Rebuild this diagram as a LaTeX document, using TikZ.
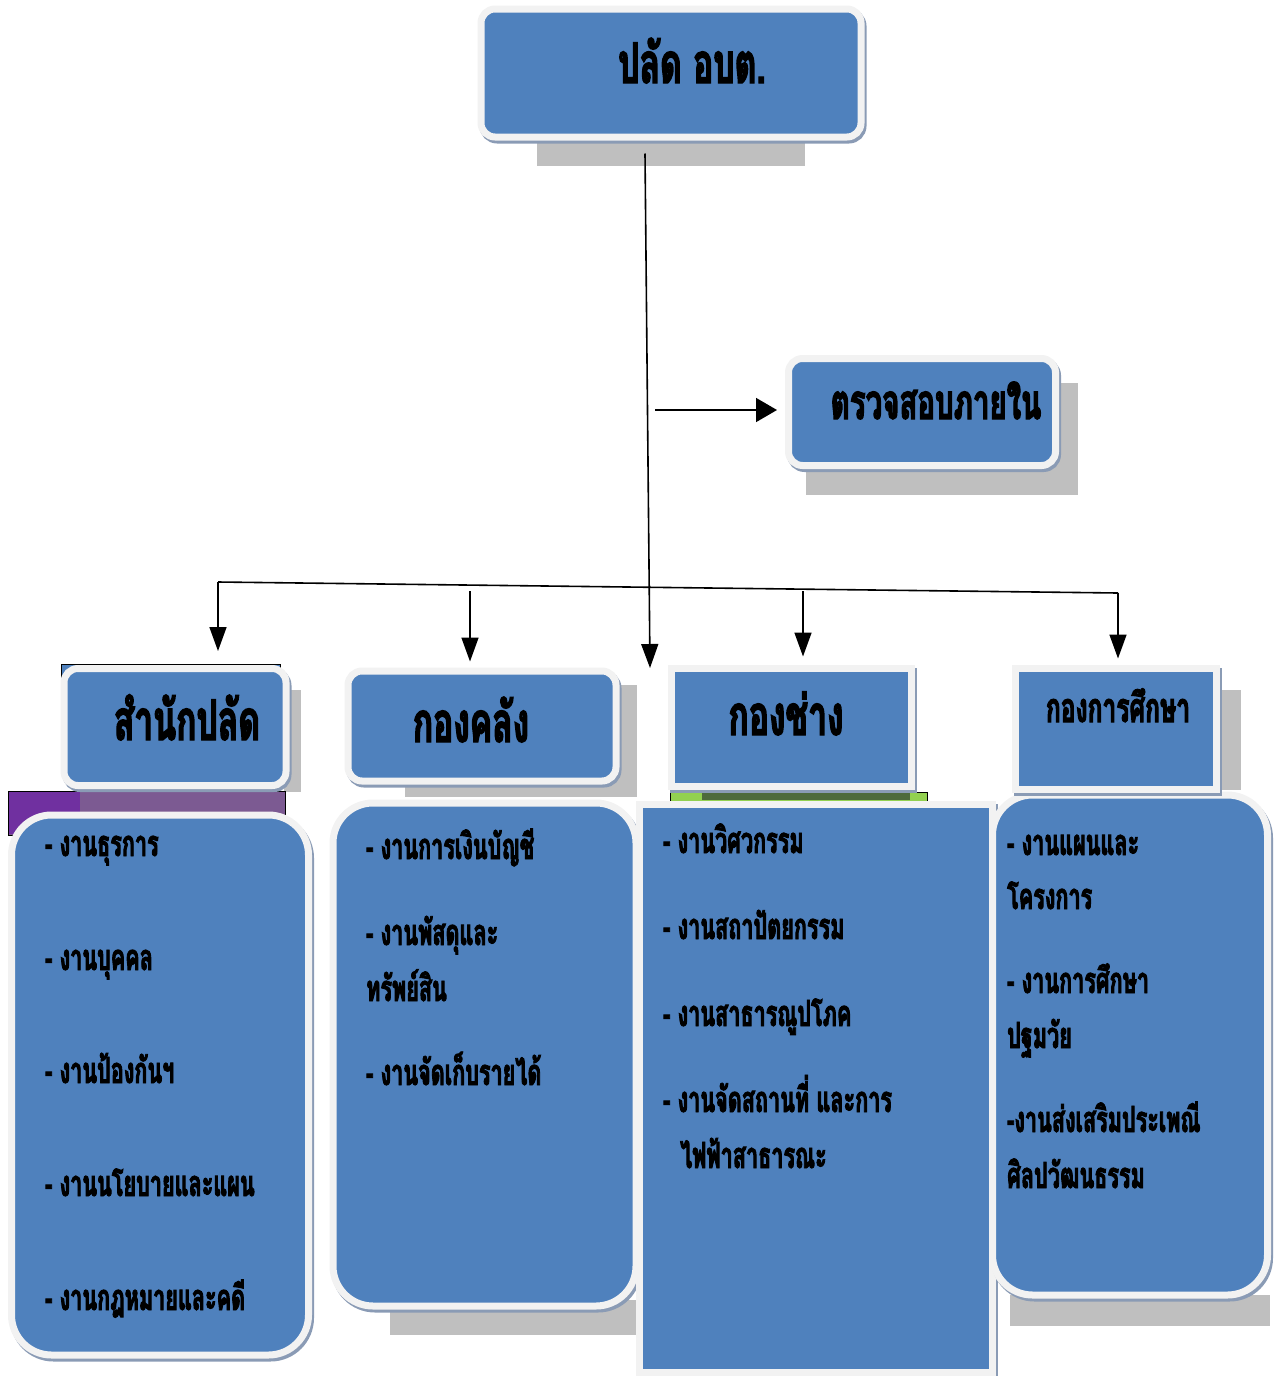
\documentclass[tikz,border=0pt]{standalone}
\usepackage{fontspec}
\usepackage{tikz}
\usetikzlibrary{arrows.meta}
\newfontfamily\thaifont[Script=Thai,FakeStretch=0.6,BoldFeatures={FakeBold=2.5}]{Loma}
\newcommand{\itemfont}{\thaifont\bfseries\fontsize{36}{40}\selectfont}
\newcommand{\headfont}{\thaifont\bfseries\fontsize{56}{60}\selectfont}
\definecolor{boxblue}{HTML}{4F81BD}
\definecolor{rimgray}{HTML}{F2F2F2}
\definecolor{shadegray}{HTML}{BFBFBF}
\definecolor{edgeblue}{HTML}{8A9BB5}
\definecolor{darkpurple}{HTML}{7030A0}
\definecolor{lightpurple}{HTML}{7C5A92}
\definecolor{bargreen}{HTML}{92D050}
\definecolor{bardark}{HTML}{4E6A3C}
\tikzset{
  softbox/.style={draw=rimgray, fill=boxblue, line width=7pt, rounded corners=14pt, inner sep=0pt,
    preaction={draw=edgeblue, line width=7pt, transform canvas={shift={(2pt,-3pt)}}}},
  squarebox/.style={softbox, rounded corners=0pt},
  heading/.style={anchor=base, inner sep=0pt, font=\headfont},
  job/.style={anchor=base west, inner sep=0pt, font=\itemfont},
  link/.style={line width=1.6pt},
  arrow/.style={link, -{Triangle[width=17pt,length=24pt]}}
}
\begin{document}
\begin{tikzpicture}[x=1pt,y=-1pt]
  \useasboundingbox (0,0) rectangle (1281,1376);
  % grey shadows
  \fill[shadegray] (537,138) rectangle (805,166);
  \fill[shadegray] (806,383) rectangle (1078,495);
  \fill[shadegray] (284,690) rectangle (301,792);
  \fill[shadegray] (405,685) rectangle (637,797);
  \fill[shadegray] (390,1300) rectangle (640,1335);
  \fill[shadegray] (1215,690) rectangle (1241,790);
  \fill[shadegray] (1010,1295) rectangle (1270,1326);
  % bars under the headings
  \filldraw[fill=lightpurple, draw=black] (8,791) rectangle (285,835);
  \fill[darkpurple] (9,792) rectangle (80,834);
  \filldraw[fill=bargreen, draw=black] (670,792) rectangle (927,801);
  \fill[bardark] (702,793) rectangle (910,800);
  \filldraw[fill=boxblue, draw=black] (61,664) rectangle (280,740);

  % boxes
  \node[softbox, minimum width=380pt, minimum height=128pt] (top) at (671,73) {};
  \node[softbox, minimum width=267pt, minimum height=107pt] (audit) at (922,412) {};
  \node[softbox, rounded corners=40pt, minimum width=297pt, minimum height=540pt] (list1) at (160,1085) {};
  \node[softbox, rounded corners=40pt, minimum width=303pt, minimum height=503pt] (list2) at (484.5,1054.5) {};
  \node[squarebox, minimum width=353pt, minimum height=568pt] (list3) at (816,1088) {};
  \node[softbox, rounded corners=40pt, minimum width=275pt, minimum height=500pt] (list4) at (1130,1045) {};
  \node[softbox, minimum width=222pt, minimum height=117pt] (head1) at (175,727) {};
  \node[softbox, minimum width=268pt, minimum height=110pt] (head2) at (482,726) {};
  \node[squarebox, minimum width=240pt, minimum height=118pt] (head3) at (791.5,727) {};
  \node[squarebox, minimum width=201pt, minimum height=121pt] (head4) at (1116,728.5) {};

  % titles
  \node[heading] (tTop) at (692,83) {ปลัด อบต.};
  \node[heading, font=\thaifont\bfseries\fontsize{49}{52}\selectfont] (tAudit) at (936,419) {ตรวจสอบภายใน};
  \node[heading] (tHead1) at (187,740) {สำนักปลัด};
  \node[heading] (tHead2) at (471,742) {กองคลัง};
  \node[heading] (tHead3) at (786,735) {กองช่าง};
  \node[heading, font=\thaifont\bfseries\fontsize{41}{44}\selectfont] (tHead4) at (1118,722) {กองการศึกษา};

  % connectors
  \coordinate (trunkEnd) at (650,668);
  \coordinate (auditTap) at (655,410);
  \coordinate (barL) at (218,582);
  \coordinate (barR) at (1118,593);
  \coordinate (tap2) at (470,591);
  \coordinate (tap3) at (803,591);
  \draw[arrow] ([xshift=-26pt,yshift=-13pt]top.south) -- (trunkEnd);
  \draw[link, -{Triangle[width=24pt,length=21pt]}, shorten >=8pt] (auditTap) -- (audit.west |- auditTap);
  \draw[link] (barL) -- (barR);
  \draw[arrow, shorten >=14pt] (barL) -- (barL |- head1.north);
  \draw[arrow, shorten >=6pt] (tap2) -- (tap2 |- head2.north);
  \draw[arrow, shorten >=8pt] (tap3) -- (tap3 |- head3.north);
  \draw[arrow, shorten >=6pt] (barR) -- (barR |- head4.north);

  % jobs of each division
  \node[job] (j11) at (45,856) {- งานธุรการ};
  \node[job] (j12) at (45,970) {- งานบุคคล};
  \node[job] (j13) at (45,1083) {- งานป้องกันฯ};
  \node[job] (j14) at (45,1196) {- งานนโยบายและแผน};
  \node[job] (j15) at (45,1310) {- งานกฎหมายและคดี};

  \node[job] (j21) at (366,859) {- งานการเงินบัญชี};
  \node[job] (j22) at (366,945) {- งานพัสดุและ};
  \node[job] (j23) at (366,1001) {ทรัพย์สิน};
  \node[job] (j24) at (366,1085) {- งานจัดเก็บรายได้};

  \node[job] (j31) at (663,853) {- งานวิศวกรรม};
  \node[job] (j32) at (663,939) {- งานสถาปัตยกรรม};
  \node[job] (j33) at (663,1026) {- งานสาธารณูปโภค};
  \node[job] (j34) at (663,1112) {- งานจัดสถานที่ และการ};
  \node[job] (j35) at (680,1168) {ไฟฟ้าสาธารณะ};

  \node[job] (j41) at (1007,855) {- งานแผนและ};
  \node[job] (j42) at (1007,909) {โครงการ};
  \node[job] (j43) at (1007,993) {- งานการศึกษา};
  \node[job] (j44) at (1007,1048) {ปฐมวัย};
  \node[job] (j45) at (1007,1132) {-งานส่งเสริมประเพณี};
  \node[job] (j46) at (1007,1188) {ศิลปวัฒนธรรม};
\end{tikzpicture}
\end{document}
